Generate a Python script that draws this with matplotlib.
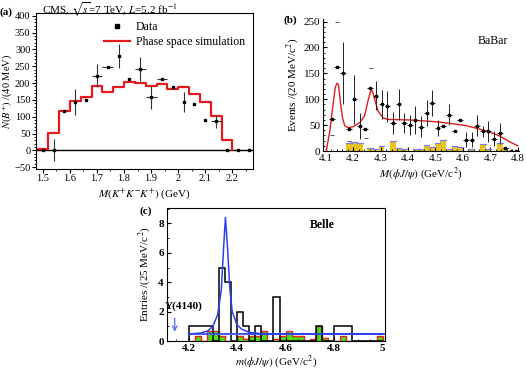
"""
Three-panel comparison of the phi J/psi and K+K-K+ mass spectra
(CMS phase space check, BaBar and Belle Y(4140) searches).
"""

import matplotlib
matplotlib.use("Agg")
import matplotlib.pyplot as plt
from matplotlib.lines import Line2D
from matplotlib.ticker import MultipleLocator, FormatStrFormatter

plt.rcParams["font.family"] = ["Liberation Serif", "DejaVu Serif"]
plt.rcParams["mathtext.fontset"] = "stix"
plt.rcParams["font.size"] = 8

# ── (a) CMS: B+ yield per 40 MeV bin vs M(K+K-K+) ────────────────────────────
cms_mass = [1.50, 1.54, 1.58, 1.62, 1.66, 1.70, 1.74, 1.78, 1.82, 1.86,
            1.90, 1.94, 1.98, 2.02, 2.06, 2.10, 2.14, 2.18, 2.22, 2.26]
cms_yield = [0, 0, 118, 143, 151, 222, 247, 281, 212, 241,
             159, 213, 188, 144, 138, 89, 86, 0, 0, 0]
cms_yerr = [0, 33, 0, 38, 0, 35, 0, 35, 0, 36,
            35, 0, 0, 30, 0, 0, 20, 0, 0, 0]
cms_xerr = [0, 0, 0, 0, 0, 0.02, 0.02, 0, 0, 0.02,
            0.02, 0.02, 0, 0, 0, 0, 0.02, 0, 0, 0]
ps_edges = [1.48, 1.52, 1.56, 1.60, 1.64, 1.68, 1.72, 1.76, 1.80, 1.84,
            1.88, 1.92, 1.96, 2.00, 2.04, 2.08, 2.12, 2.16, 2.20]
ps_values = [3, 52, 116, 146, 160, 190, 173, 188, 202, 200,
             192, 198, 182, 188, 168, 144, 103, 31]

# ── (b) BaBar: events per 20 MeV vs M(phi J/psi) ─────────────────────────────
bb_mass = [4.123, 4.141, 4.163, 4.184, 4.204, 4.224, 4.244, 4.261, 4.282, 4.304,
           4.325, 4.345, 4.366, 4.386, 4.407, 4.427, 4.447, 4.468, 4.488, 4.508,
           4.528, 4.549, 4.570, 4.590, 4.611, 4.632, 4.652, 4.673, 4.693, 4.714,
           4.735, 4.755, 4.776, 4.795]
bb_events = [62, 162, 151, 42, 100, 48, 42, 122, 107, 90,
             86, 54, 90, 54, 50, 60, 47, 73, 93, 44,
             49, 70, 38, 60, 22, 22, 49, 38, 38, 24,
             34, 6, 0, 0]
bb_err = [0, 0, 60, 0, 47, 25, 0, 0, 28, 28,
          30, 22, 30, 20, 20, 27, 20, 25, 25, 15,
          0, 20, 0, 0, 15, 15, 20, 10, 20, 15,
          20, 0, 0, 0]
bb_bkg = [0, 0, 0, 15, 18, 16, 0, 6, 4, 10,
          0, 20, 5, 3, 0, 4, 4, 12, 8, 15,
          22, 4, 10, 8, 0, 4, 0, 13, 4, 0,
          16, 5, 0, 0]
# isolated error-bar ends visible without their bars
bb_cap_x = [4.123, 4.141, 4.184, 4.246, 4.264]
bb_cap_y = [30, 250, 20, 25, 160]
bb_fit_x = [4.102, 4.115, 4.127, 4.135, 4.141, 4.147, 4.153, 4.161, 4.169, 4.181,
            4.200, 4.224, 4.242, 4.254, 4.264, 4.270, 4.278, 4.290, 4.309, 4.327,
            4.406, 4.515, 4.612, 4.685, 4.734, 4.770, 4.800]
bb_fit_y = [0, 39, 91, 123, 131, 127, 97, 65, 49, 45,
            47, 55, 68, 97, 116, 116, 101, 78, 64, 61,
            60, 56, 49, 39, 29, 18, 10]

# ── (c) Belle: entries per 25 MeV vs m(phi J/psi) ────────────────────────────
belle_edges = [4.200, 4.225, 4.250, 4.275, 4.300, 4.325, 4.350, 4.375, 4.400,
               4.425, 4.450, 4.475, 4.500, 4.525, 4.550, 4.575, 4.600, 4.625,
               4.650, 4.675, 4.700, 4.725, 4.750, 4.775, 4.800, 4.825, 4.850,
               4.875, 4.900, 4.925, 4.950, 4.975, 5.000]
belle_data = [1, 1, 1, 1, 0, 5, 4, 0, 2, 1, 0, 1, 0, 0, 3, 0,
              0, 0, 0, 0, 0, 1, 0, 0, 1, 1, 1, 0, 0, 0, 0, 0]
belle_side = [0, 0.33, 0, 0.67, 0.67, 0.33, 0, 0, 0.33, 0.17, 0.33, 0.33,
              0.67, 0, 0.17, 0.33, 0.67, 0.33, 0.33, 0, 0.17, 1.0, 0.2, 0,
              0, 0.33, 0, 0, 0, 0, 0, 0.33]
belle_fit_x = [4.20, 4.25, 4.28, 4.30, 4.32, 4.335, 4.345, 4.352, 4.36, 4.37,
               4.38, 4.40, 4.42, 4.45, 4.50, 5.00]
belle_fit_y = [0.48, 0.55, 0.7, 1.0, 1.8, 3.5, 6.5, 8.4, 6.5, 3.6,
               2.0, 1.1, 0.8, 0.6, 0.5, 0.5]
belle_bkg_level = 0.5
y4140_mass = 4.143

RED = "#e41a1c"
BLUE = "#2b3ff0"


def step_xy(edges, values):
    """Outline of a histogram given bin edges and contents."""
    xs, ys = [], []
    for lo, hi, v in zip(edges[:-1], edges[1:], values):
        xs += [lo, hi]
        ys += [v, v]
    xs.append(edges[-1])
    ys.append(0)
    return xs, ys


fig = plt.figure(figsize=(5.26, 3.72), dpi=100)

# ── Panel (a) ────────────────────────────────────────────────────────────────
ax_a = fig.add_axes([0.0684, 0.546, 0.4126, 0.419])
xs, ys = step_xy(ps_edges, ps_values)
ax_a.plot(xs, ys, color=RED, lw=1.6, zorder=2)
ax_a.axhline(0, color="black", lw=1.0, zorder=1)
ax_a.errorbar(cms_mass, cms_yield, yerr=cms_yerr, xerr=cms_xerr, fmt="s",
              ms=1.8, color="black", ecolor="#333333", elinewidth=0.8,
              capsize=0, zorder=3)
ax_a.set_xlim(1.475, 2.276)
ax_a.set_ylim(-55, 408)
ax_a.xaxis.set_major_locator(MultipleLocator(0.1))
ax_a.xaxis.set_minor_locator(MultipleLocator(0.05))
ax_a.xaxis.set_major_formatter(FormatStrFormatter("%g"))
ax_a.yaxis.set_major_locator(MultipleLocator(50))
ax_a.yaxis.set_minor_locator(MultipleLocator(10))
ax_a.tick_params(which="both", direction="out", labelsize=7.5, pad=1)
ax_a.tick_params(which="major", length=3)
ax_a.tick_params(which="minor", length=1.5)
ax_a.set_ylabel(r"$N(B^{+})$ /(40 MeV)", fontsize=7.5, labelpad=0)
ax_a.set_xlabel(r"$M(K^{+}K^{-}K^{+})$ (GeV)", fontsize=8, labelpad=2)
legend_handles = [
    Line2D([], [], ls="none", marker="s", ms=2.2, color="black"),
    Line2D([], [], color=RED, lw=1.6),
]
ax_a.legend(legend_handles, ["Data", "Phase space simulation"],
            loc="upper right", frameon=False, fontsize=8.5, handlelength=2.2,
            borderaxespad=0.3, labelspacing=0.25, handletextpad=0.5)
fig.text(0.0, 1 - 12 / 372, "(a)", fontsize=8, fontweight="bold", va="center")
fig.text(42 / 526, 1 - 10 / 372,
         r"CMS, $\sqrt{s}$=7 TeV, $L$=5.2 fb$^{-1}$", fontsize=8, va="center")

# ── Panel (b) ────────────────────────────────────────────────────────────────
ax_b = fig.add_axes([0.614, 0.594, 0.373, 0.355])
ax_b.bar(bb_mass, bb_bkg, width=0.0204, color="#e8c31f", edgecolor="none",
         zorder=1)
bw = 0.0102
for x, h in zip(bb_mass, bb_bkg):
    if h > 0:
        ax_b.plot([x - bw, x + bw], [h, h], color="#7f7fe6", lw=0.9, zorder=2)
ax_b.plot(bb_fit_x, bb_fit_y, color=RED, lw=1.0, zorder=3)
ax_b.errorbar(bb_mass, bb_events, yerr=bb_err, xerr=0.01, fmt="s", ms=1.6,
              color="black", ecolor="#222222", elinewidth=0.7, capsize=0,
              zorder=4)
ax_b.plot(bb_cap_x, bb_cap_y, "_", color="#555555", ms=3, mew=0.7, zorder=4)
ax_b.text(4.71, 212, "BaBar", fontsize=8.5, ha="center", va="center")
ax_b.set_xlim(4.09, 4.805)
ax_b.set_ylim(0, 255)
for side in ("top", "right"):
    ax_b.spines[side].set_visible(False)
ax_b.xaxis.set_major_locator(MultipleLocator(0.1))
ax_b.xaxis.set_minor_locator(MultipleLocator(0.02))
ax_b.xaxis.set_major_formatter(FormatStrFormatter("%g"))
ax_b.yaxis.set_major_locator(MultipleLocator(50))
ax_b.yaxis.set_minor_locator(MultipleLocator(10))
ax_b.tick_params(which="both", direction="in", labelsize=8, pad=2)
ax_b.tick_params(which="major", length=3)
ax_b.tick_params(which="minor", length=1.5)
ax_b.set_ylabel(r"Events /(20 MeV/c$^{2}$)", fontsize=8, labelpad=2)
ax_b.set_xlabel(r"$M(\phi J/\psi)$ (GeV/c$^{2}$)", fontsize=8, labelpad=2)
fig.text(284 / 526, 1 - 20 / 372, "(b)", fontsize=8, fontweight="bold",
         va="center")

# ── Panel (c) ────────────────────────────────────────────────────────────────
ax_c = fig.add_axes([0.317, 0.083, 0.415, 0.3587])
ax_c.stairs(belle_side, belle_edges, fill=True, color="#49dd14", zorder=1)
ax_c.stairs(belle_side, belle_edges, color="#ee2020", lw=1.0, zorder=2)
ax_c.stairs(belle_data, belle_edges, color="black", lw=1.1, zorder=3)
ax_c.axhline(belle_bkg_level, xmin=0.1, xmax=1.0, color=BLUE, lw=1.3,
             zorder=4)
ax_c.plot([4.20, 4.45], [0.47, 0.47], color="#6f8cff", lw=1.0, ls=":",
          zorder=4)
ax_c.plot(belle_fit_x, belle_fit_y, color=BLUE, lw=1.1, zorder=5)
ax_c.annotate("", xy=(y4140_mass, 0.45), xytext=(y4140_mass, 1.75),
              arrowprops=dict(arrowstyle="->", color="#4a6cf0", lw=0.9))
ax_c.text(4.182, 2.05, "Y(4140)", fontsize=8, fontweight="bold",
          ha="center", va="bottom")
ax_c.text(4.752, 7.9, "Belle", fontsize=8.5, fontweight="bold",
          ha="center", va="center")
ax_c.set_xlim(4.11, 5.01)
ax_c.set_ylim(0, 9.07)
ax_c.xaxis.set_major_locator(MultipleLocator(0.2))
ax_c.xaxis.set_minor_locator(MultipleLocator(0.05))
ax_c.xaxis.set_major_formatter(FormatStrFormatter("%g"))
ax_c.yaxis.set_major_locator(MultipleLocator(2))
ax_c.yaxis.set_minor_locator(MultipleLocator(1))
ax_c.tick_params(which="both", direction="in", labelsize=8, pad=2)
ax_c.tick_params(which="major", length=3)
ax_c.tick_params(which="minor", length=1.5)
for lab in ax_c.get_xticklabels() + ax_c.get_yticklabels():
    lab.set_fontweight("bold")
ax_c.set_ylabel(r"Entries /(25 MeV/c$^{2}$)", fontsize=8, labelpad=4)
ax_c.set_xlabel(r"$m(\phi J/\psi)$ (GeV/c$^{2}$)", fontsize=8, labelpad=0)
fig.text(140 / 526, 1 - 211 / 372, "(c)", fontsize=8, fontweight="bold",
         va="center")

fig.savefig("out.png", dpi=100)
